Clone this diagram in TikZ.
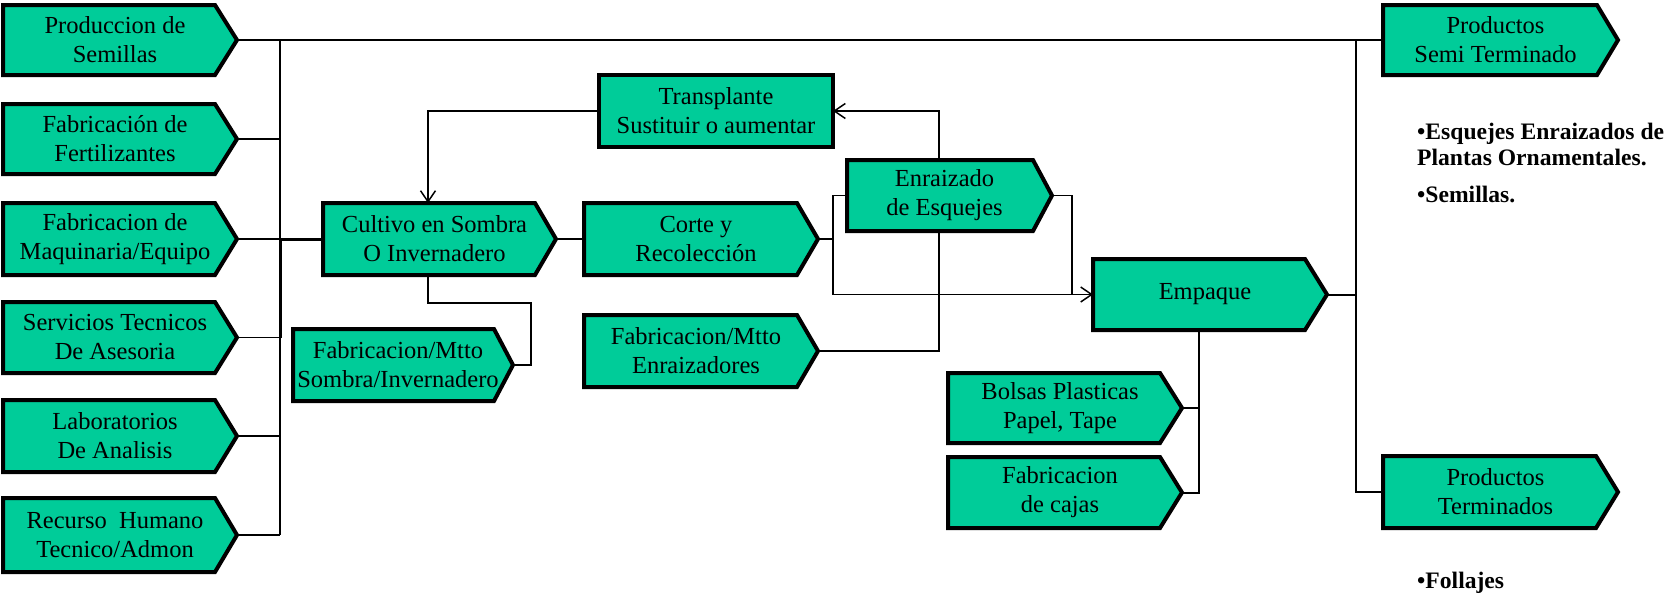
\documentclass[tikz,border=0pt]{standalone}
\usepackage{fontspec}
\setmainfont{Liberation Serif}
\usetikzlibrary{arrows.meta}
\definecolor{leaf}{RGB}{0,204,153}
\tikzset{
  boxline/.style={draw=black, fill=leaf, line width=4pt, line join=miter},
  boxtext/.style={inner sep=0pt, outer sep=0pt, align=center, font=\fontsize{24.5}{29}\selectfont},
  wire/.style={line width=1.5pt},
  wirem/.style={line width=2pt},
  wireh/.style={line width=3pt},
  feed/.style={wire, -{Straight Barb[length=11pt,width=15pt,line width=1.5pt]}},
  note/.style={inner sep=0pt, font=\fontsize{23.6}{28}\selectfont\bfseries, anchor=base west},
}
% pentagon (arrow-shaped) process box:
% #1 name, #2 left, #3 top, #4 right edge of the body, #5 tip x, #6 bottom, #7 text
\newcommand\pbox[7]{%
  \draw[boxline] (#2,#3) -- (#4,#3) -- (#5,{(#3+#6)/2}) -- (#4,#6) -- (#2,#6) -- cycle;
  \node[inner sep=0pt, outer sep=0pt, minimum width={(#5-#2)*1pt}, minimum height={(#6-#3)*1pt}]
    (#1) at ({(#2+#5)/2},{(#3+#6)/2}) {};
  \node[boxtext] (#1-text) at ([xshift=-5pt]#1.center) {#7};
}
\begin{document}
\begin{tikzpicture}[x=1pt,y=-1pt]
\useasboundingbox (0,0) rectangle (1671,595);

% suppliers on the left
\pbox{prod}{3}{5}{215}{237}{75}{Produccion de\\Semillas}
\pbox{fert}{3}{104}{215}{237}{174}{Fabricación de\\Fertilizantes}
\pbox{maq}{3}{203}{215}{237}{275}{Fabricacion de\\Maquinaria/Equipo}
\pbox{serv}{3}{302}{215}{237}{373}{Servicios Tecnicos\\De Asesoria}
\pbox{lab}{3}{400}{215}{237}{472}{Laboratorios\\De Analisis}
\pbox{rh}{3}{498}{215}{237}{572}{Recurso\ \ Humano\\Tecnico/Admon}

% main process
\pbox{cult}{323}{203}{535}{556}{275}{Cultivo en Sombra\\O Invernadero}
\pbox{fsomb}{293}{329}{494}{513}{401}{Fabricacion/Mtto\\Sombra/Invernadero}
\node[boxline, boxtext, minimum width=234pt, minimum height=72pt] (trans) at (716,111)
  {Transplante\\Sustituir o aumentar};
\pbox{corte}{584}{203}{797}{818}{275}{Corte y\\Recolección}
\pbox{fenr}{584}{315}{797}{818}{387}{Fabricacion/Mtto\\Enraizadores}
\pbox{enr}{847}{160}{1033}{1052}{231}{Enraizado\\de Esquejes}
\pbox{emp}{1093}{259}{1305}{1327}{330}{Empaque}
\pbox{bols}{948}{373}{1160}{1182}{443}{Bolsas Plasticas\\Papel, Tape}
\pbox{cajas}{948}{457}{1160}{1182}{528}{Fabricacion\\de cajas}

% outputs
\pbox{psemi}{1383}{5}{1597}{1618}{75}{Productos\\Semi Terminado}
\pbox{pterm}{1383}{456}{1596}{1618}{528}{Productos\\Terminados}

\node[note] (n1) at (1417,139) {•Esquejes Enraizados de};
\node[note] (n2) at (1417,165) {Plantas Ornamentales.};
\node[note] (n3) at (1417,202) {•Semillas.};
\node[note] (n4) at (1417,588) {•Follajes};

% helper columns for the bus lines
\coordinate (busL) at (280,0);
\coordinate (busR) at (1356,0);
\coordinate (busC) at (833,0);
\coordinate (enrR) at (1072,0);
\coordinate (enrV) at (939,0);
\coordinate (cultV) at (428,0);
\coordinate (empV) at (1199,0);
\coordinate (kS) at (531,303);

% left bus
\draw[wirem] (prod.east) -- (psemi.west);
\draw[wirem] (prod.east -| busL) -- (maq.east -| busL);
\draw[wireh] (maq.east -| busL) -- (serv.east -| busL);
\draw[wire] (serv.east -| busL) -- (rh.east -| busL);
\draw[wire] (fert.east) -- (fert.east -| busL);
\draw[wire] (maq.east) -- (maq.east -| busL);
\draw[wireh] (maq.east -| busL) -- (cult.west);
\draw[wire] (serv.east) -- (serv.east -| busL);
\draw[wire] (lab.east) -- (lab.east -| busL);
\draw[wire] (rh.east) -- (rh.east -| busL);

% cultivation
\draw[wire] (cult.east) -- (corte.west);
\draw[wire] (cult.south -| cultV) |- (kS) |- (fsomb.east);
\draw[feed] (trans.west) -| (cult.north -| cultV);

% harvest and rooting
\draw[wire] (corte.east) -- (corte.east -| busC);
\draw[wire] (enr.west) -| (busC |- emp.west);
\draw[feed] (busC |- emp.west) -- (emp.west);
\draw[wire] (enr.east) -| (enrR |- emp.west);
\draw[feed] (enr.north -| enrV) |- (trans.east);
\draw[wire] (enr.south -| enrV) |- (fenr.east);

% packing
\draw[wirem] (emp.south -| empV) |- (cajas.east);
\draw[wirem] (bols.east) -- (bols.east -| empV);

% right bus
\draw[wirem] (emp.east) -- (emp.east -| busR);
\draw[wirem] (prod.east -| busR) |- (pterm.west);
\end{tikzpicture}
\end{document}
